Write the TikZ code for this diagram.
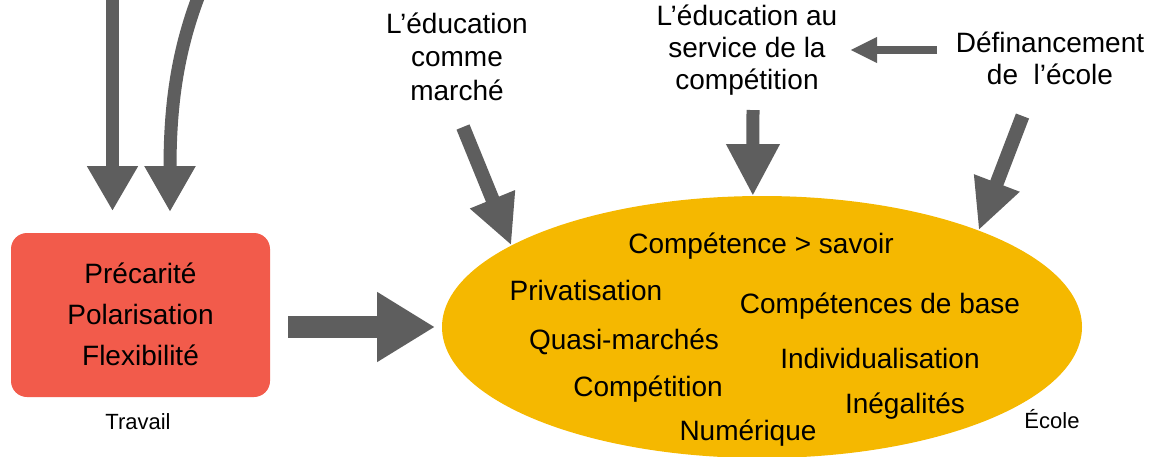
\documentclass[tikz,border=0pt]{standalone}
\usepackage{fontspec}
\setmainfont{Liberation Sans}
\usetikzlibrary{arrows.meta,shapes.geometric}
\definecolor{arrowgray}{HTML}{5E5E5E}
\definecolor{workred}{HTML}{F25B4B}
\definecolor{schoolgold}{HTML}{F5B800}
\begin{document}
\begin{tikzpicture}[x=1pt,y=-1pt,
  bigtext/.style={font=\fontsize{28}{33}\selectfont},
  topic/.style={bigtext, align=center, anchor=base, inner sep=0pt},
  item/.style={bigtext, anchor=base, inner sep=0pt},
  caption/.style={font=\fontsize{22}{26}\selectfont, anchor=base, inner sep=0pt},
  blockarrow/.style n args={3}{draw=arrowgray, line width=#1,
    -{Triangle[length=#2,width=#3]}}
]
\useasboundingbox (0,0) rectangle (1152,456);

% École
\node[ellipse, fill=schoolgold, minimum width=640pt, minimum height=262pt,
      inner sep=0pt, outer sep=0pt] (ell) at (762,327) {};
\node[item] (i1) at (761,253) {Compétence > savoir};
\node[item] (i2) at (586,300) {Privatisation};
\node[item] (i3) at (880,313) {Compétences de base};
\node[item] (i4) at (624,349) {Quasi-marchés};
\node[item] (i5) at (880,368) {Individualisation};
\node[item] (i6) at (648,396) {Compétition};
\node[item] (i7) at (905,413) {Inégalités};
\node[item] (i8) at (748,440) {Numérique};
\node[caption] (ecole) at (1052,428) {École};

% Travail (multi-line nodes are anchored at the baseline of their last line)
\node[rectangle, rounded corners=16pt, fill=workred, minimum width=259pt,
      minimum height=164pt, inner sep=0pt, outer sep=0pt] (box) at (140.5,315) {};
\node[align=center, anchor=base, inner sep=0pt,
      font=\fontsize{28}{41}\selectfont] (boxtxt) at (140.5,365)
  {Précarité\\Polarisation\\Flexibilité};
\node[caption] (travail) at (138,429) {Travail};

% driving factors
\node[topic, font=\fontsize{28}{33.5}\selectfont] (t1) at (457,100)
  {L’éducation\\comme\\marché};
\node[topic, font=\fontsize{28}{32}\selectfont] (t2) at (747,89)
  {L’éducation au\\service de la\\compétition};
\node[topic, font=\fontsize{28}{32}\selectfont] (t3) at (1050,84)
  {Définancement\\de\ \ l’école};

% arrows
\coordinate (inA) at (112.5,-5);
\coordinate (inB) at (199,-5);
\coordinate (inBtip) at (170,212);
\coordinate (t1out) at (463,127);
\coordinate (t2out) at (753,110);
\coordinate (t3out) at (1022.5,116);
\coordinate (t3left) at (937,50);
\coordinate (t2in) at (850,50);

\draw[blockarrow={13pt}{45pt}{48pt}, shorten >=22pt] (inA) -- (inA |- box.north);
\draw[blockarrow={13pt}{46pt}{48pt}] (inB) .. controls (176,55) and (170,110) .. (inBtip);
\draw[blockarrow={22pt}{58pt}{66pt}, shorten <=18pt, shorten >=7pt]
  (box.east |- ell.west) -- (ell.west);
\draw[blockarrow={14pt}{50pt}{45pt}] (t1out) -- (ell.162);
\draw[blockarrow={13pt}{52pt}{50pt}] (t2out) -- (ell.94);
\draw[blockarrow={14pt}{51pt}{45pt}] (t3out) -- (ell.24);
\draw[blockarrow={8pt}{27pt}{24pt}] (t3left) -- (t2in);
\end{tikzpicture}
\end{document}
